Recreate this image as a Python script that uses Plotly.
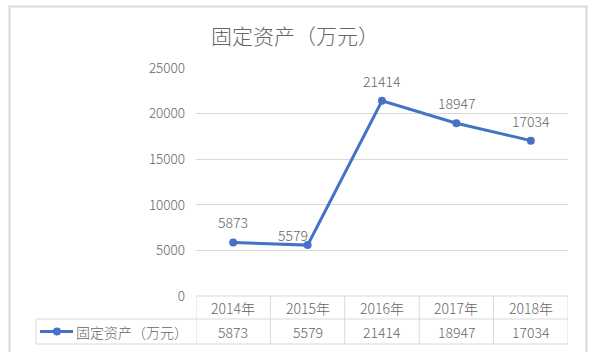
import plotly.graph_objects as go

# Fixed assets by year (unit: 10k CNY)
years = ["2014年", "2015年", "2016年", "2017年", "2018年"]
values = [5873, 5579, 21414, 18947, 17034]
series_name = "固定资产（万元）"
y_ticks = [0, 5000, 10000, 15000, 20000, 25000]

W, H = 596, 352
FONT = "Noto Sans CJK SC, Inter, sans-serif"
GRAY_TXT = "#666666"
GRID = "#d9d9d9"
BLUE = "#4472C4"

def px_x(x):
    return x / W

def px_y(y):
    return 1 - y / H

plot_left, plot_right = 196, 568
plot_top, plot_bottom = 68, 296
row1_bottom, row2_bottom = 319, 344
legend_left = 36

# per-label horizontal nudges for the value labels (pixels)
label_dx = [0, -15, 0, 0, 0]

fig = go.Figure()
fig.add_trace(go.Scatter(
    x=years, y=values, mode="lines+markers",
    line=dict(color=BLUE, width=3),
    marker=dict(color=BLUE, size=8),
    name=series_name, showlegend=False, hoverinfo="x+y",
))

txt_font = dict(family=FONT, size=14, color=GRAY_TXT, weight=300)
tick_font = dict(family=FONT, size=13.5, color=GRAY_TXT, weight=300)

annotations = []
# Value labels above points
for yr, v, dx in zip(years, values, label_dx):
    annotations.append(dict(
        x=yr, y=v, xref="x", yref="y", text=str(v), showarrow=False,
        yshift=20 if dx == 0 else 10, xshift=dx, font=txt_font,
    ))
# Data table: header row (years) and value row
for yr, v in zip(years, values):
    annotations.append(dict(
        x=yr, y=px_y((plot_bottom + row1_bottom) / 2), xref="x", yref="paper",
        text=yr, showarrow=False, yanchor="middle", font=txt_font,
    ))
    annotations.append(dict(
        x=yr, y=px_y((row1_bottom + row2_bottom) / 2), xref="x", yref="paper",
        text=str(v), showarrow=False, yanchor="middle", font=txt_font,
    ))
# Legend key text in the table
annotations.append(dict(
    x=px_x(74), y=px_y((row1_bottom + row2_bottom) / 2), xref="paper", yref="paper",
    text=series_name, showarrow=False, xanchor="left", yanchor="middle", font=txt_font,
))
# Title
annotations.append(dict(
    x=px_x(295), y=px_y(35), xref="paper", yref="paper",
    text=series_name, showarrow=False, xanchor="center", yanchor="middle",
    font=dict(family=FONT, size=21, color=GRAY_TXT, weight=300),
))

shapes = []
line_style = dict(color=GRID, width=1)
# Outer chart border
shapes.append(dict(type="rect", xref="paper", yref="paper",
                   x0=px_x(9.5), x1=px_x(586.5), y0=px_y(354), y1=px_y(6.5),
                   line=dict(color=GRID, width=2), layer="below"))
# Table horizontal lines
shapes.append(dict(type="line", xref="paper", yref="paper",
                   x0=px_x(plot_left), x1=px_x(plot_right), y0=px_y(plot_bottom), y1=px_y(plot_bottom), line=line_style))
for yy in (row1_bottom, row2_bottom):
    shapes.append(dict(type="line", xref="paper", yref="paper",
                       x0=px_x(legend_left), x1=px_x(plot_right), y0=px_y(yy), y1=px_y(yy), line=line_style))
# Table vertical lines
shapes.append(dict(type="line", xref="paper", yref="paper",
                   x0=px_x(legend_left), x1=px_x(legend_left), y0=px_y(row1_bottom), y1=px_y(row2_bottom), line=line_style))
for i in range(len(years) + 1):
    shapes.append(dict(type="line", xref="x", yref="paper",
                       x0=i - 0.5, x1=i - 0.5, y0=px_y(plot_bottom), y1=px_y(row2_bottom), line=line_style))
# Legend key: line with marker
key_y = px_y((row1_bottom + row2_bottom) / 2)
shapes.append(dict(type="line", xref="paper", yref="paper",
                   x0=px_x(40), x1=px_x(73), y0=key_y, y1=key_y,
                   line=dict(color=BLUE, width=3)))
shapes.append(dict(type="circle", xref="paper", yref="paper",
                   x0=px_x(53), x1=px_x(61), y0=key_y - 4 / H, y1=key_y + 4 / H,
                   fillcolor=BLUE, line=dict(color=BLUE, width=0)))

fig.update_layout(
    width=W, height=H, autosize=False,
    margin=dict(l=0, r=0, t=0, b=0, autoexpand=False),
    paper_bgcolor="white", plot_bgcolor="white",
    xaxis=dict(domain=[px_x(plot_left), px_x(plot_right)], range=[-0.5, len(years) - 0.5],
               showticklabels=False, showgrid=False, zeroline=False, showline=False,
               automargin=False, fixedrange=True),
    yaxis=dict(domain=[px_y(plot_bottom), px_y(plot_top)], range=[0, 25000],
               tickvals=y_ticks, ticktext=[str(t) for t in y_ticks],
               showgrid=True, gridcolor=GRID, gridwidth=1, zeroline=False, showline=False,
               ticks="", ticklabelstandoff=10, automargin=False,
               tickfont=tick_font, fixedrange=True),
    annotations=annotations,
    shapes=shapes,
)

fig.write_html("out.html")
